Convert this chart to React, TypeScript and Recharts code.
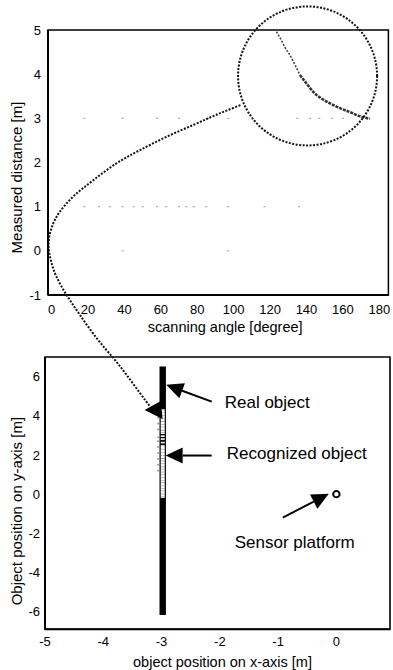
import React from 'react';
import {
  ComposedChart,
  Line,
  Scatter,
  XAxis,
  YAxis,
  ReferenceArea,
  ReferenceLine,
  ReferenceDot,
} from 'recharts';

const FONT = '"Liberation Sans", Arial, Helvetica, sans-serif';

// ---- top plot: measured distance vs scanning angle ----
const angleTicks = [0, 20, 40, 60, 80, 100, 120, 140, 160, 180];
const distTicks = [-1, 0, 1, 2, 3, 4, 5];

const measuredAngle = [123.5, 126.2, 128.0, 130.9, 133.7, 136.4, 140.0, 143.7, 148.2, 152.9, 158.4, 163.9, 169.3, 174.8];
const measuredDist = [4.96, 4.77, 4.62, 4.43, 4.21, 3.98, 3.79, 3.6, 3.45, 3.34, 3.23, 3.14, 3.05, 2.99];

// faint scan noise along y = 0, 1, 3
const noiseAt0 = [39, 97];
const noiseAt1 = [18, 26, 32, 39, 45, 50, 58, 63, 70, 74, 78, 85, 97, 117, 136];
const noiseAt3 = [18, 39, 58, 70, 86, 97, 135, 142, 147, 154, 160];

// dotted connector curve (in top-plot units, runs on into lower plot)
const linkAngle = [103.7, 90.5, 77.8, 63.0, 48.5, 35.6, 22.9, 11.9, 4.6, 0.9, -1.3, -1.5, 0.0, 2.7, 8.2, 15.5, 24.6, 33.7, 41.0, 48.5, 54.0];
const linkDist = [3.3, 3.08, 2.85, 2.58, 2.28, 1.98, 1.6, 1.23, 0.89, 0.62, 0.32, 0.01, -0.28, -0.59, -1.0, -1.45, -1.97, -2.42, -2.8, -3.22, -3.52];
const zoomCircle = [{ x: 140.6, y: 3.96 }];

// ---- bottom plot: object position ----
const posXTicks = [-5, -4, -3, -2, -1, 0];
const posYTicks = [-6, -4, -2, 0, 2, 4, 6];

const realObjectX = -2.98;
const realObjectY = [-6.17, 6.51];
const recognizedY = [
  4.28, 4.2, 4.12, 4.05, 3.97, 3.9, 3.82, 3.75, 3.66, 3.58, 3.5, 3.42, 3.35, 3.27, 3.18, 3.1, 2.95,
  2.8, 2.62, 2.45, 2.38, 2.3, 2.22, 2.15, 2.07, 2.0, 1.92, 1.85, 1.76, 1.68, 1.6, 1.52, 1.45, 1.37,
  1.28, 1.2, 1.12, 1.04, 0.96, 0.88, 0.8, 0.72, 0.64, 0.55, 0.47, 0.4, 0.32, 0.24, 0.15, 0.08, 0.0,
  -0.08, -0.16,
];
const recognizedEdgeY = [4.1, 3.9, 3.6, 3.3, 2.9, 2.7, 2.4, 2.1, 1.8, 1.5, 1.2];
const sensor = [{ x: 0, y: 0 }];
const linkHead = [{ x: -3.29, y: 4.3 }];

const realArrow = [{ x: -2.14, y: 4.72 }, { x: -2.92, y: 5.58 }];
const recognizedArrow = [{ x: -2.14, y: 1.97 }, { x: -2.93, y: 1.97 }];
const sensorArrow = [{ x: -0.92, y: -1.2 }, { x: -0.13, y: 0.02 }];

const notes = [
  { text: 'Real object', x: -1.916, y: 4.68 },
  { text: 'Recognized object', x: -1.88, y: 2.08 },
  { text: 'Sensor platform', x: -1.744, y: -2.42 },
];

const measuredUpper = measuredAngle.slice(0, 6).map((x, i) => ({ x, y: measuredDist[i] }));
const measuredLower = measuredAngle.slice(5).map((x, i) => ({ x, y: measuredDist[i + 5] }));
const noisePts = [
  ...noiseAt0.map((x) => ({ x, y: 0 })),
  ...noiseAt1.map((x) => ({ x, y: 1 })),
  ...noiseAt3.map((x) => ({ x, y: 3 })),
];
const linkPts = linkAngle.map((x, i) => ({ x, y: linkDist[i] }));
const recognizedPts = recognizedY.map((y) => ({ x: realObjectX, y }));
const recognizedEdgePts = recognizedEdgeY.map((y) => ({ x: -3.06, y }));

const tickStyle = { fontSize: 13, fill: '#000', fontFamily: FONT };
const titleStyle = { fontSize: 14.5, fill: '#000', fontFamily: FONT, textAnchor: 'middle' as const };

const Arrow = (props: any) => {
  const { x1, y1, x2, y2 } = props;
  const a = Math.atan2(y2 - y1, x2 - x1);
  const len = 17;
  const half = 8;
  const bx = x2 - len * Math.cos(a);
  const by = y2 - len * Math.sin(a);
  const px = -Math.sin(a) * half;
  const py = Math.cos(a) * half;
  return (
    <g>
      <line x1={x1} y1={y1} x2={bx} y2={by} stroke="#000" strokeWidth={2} />
      <polygon points={`${x2},${y2} ${bx + px},${by + py} ${bx - px},${by - py}`} fill="#000" />
    </g>
  );
};

const TopChart = () => (
  <ComposedChart width={393} height={340} margin={{ top: 30, right: 4.6, left: 0, bottom: 0 }}>
    <XAxis
      type="number"
      dataKey="x"
      domain={[-2, 185]}
      ticks={angleTicks}
      height={45}
      tickLine={false}
      tickSize={6}
      tickMargin={4}
      tick={tickStyle}
      axisLine={{ stroke: '#000', strokeWidth: 2 }}
      label={{ value: 'scanning angle [degree]', position: 'insideBottom', offset: 8, dx: 7, style: titleStyle }}
    />
    <YAxis
      type="number"
      dataKey="y"
      domain={[-1, 5]}
      ticks={distTicks}
      width={48}
      tickLine={false}
      tickSize={4}
      tickMargin={3}
      tick={tickStyle}
      axisLine={{ stroke: '#000', strokeWidth: 2 }}
      label={{ value: 'Measured distance [m]', angle: -90, position: 'insideLeft', offset: 0, dx: 17, dy: 15, style: { ...titleStyle, fontSize: 15 } }}
    />
    <ReferenceArea x1={-2} x2={185} y1={-1} y2={5} fill="none" stroke="#000" strokeWidth={1.5} />
    <Scatter
      data={noisePts}
      isAnimationActive={false}
      shape={(p: any) => <rect x={p.cx - 1} y={p.cy - 0.6} width={2} height={1.2} fill="#aaa" />}
    />
    <Line
      data={measuredUpper}
      dataKey="y"
      type="monotone"
      stroke="#444"
      strokeWidth={1.6}
      strokeDasharray="2 1.5"
      dot={false}
      isAnimationActive={false}
    />
    <Line
      data={measuredLower}
      dataKey="y"
      type="monotone"
      stroke="#333"
      strokeWidth={2.6}
      strokeDasharray="3 1"
      dot={false}
      isAnimationActive={false}
    />
  </ComposedChart>
);

const BottomChart = () => (
  <ComposedChart width={393} height={330} margin={{ top: 17, right: 3, left: 0, bottom: 0 }}>
    <XAxis
      type="number"
      dataKey="x"
      domain={[-5, 0.92]}
      ticks={posXTicks}
      height={40.7}
      tickLine={false}
      tickSize={4}
      tickMargin={3.5}
      tick={tickStyle}
      axisLine={{ stroke: '#000', strokeWidth: 2 }}
      label={{ value: 'object position on x-axis [m]', position: 'insideBottom', offset: 3, dx: 5, style: titleStyle }}
    />
    <YAxis
      type="number"
      dataKey="y"
      domain={[-6.9, 7]}
      ticks={posYTicks}
      width={45}
      tickLine={false}
      tickSize={3}
      tickMargin={2}
      tick={tickStyle}
      axisLine={{ stroke: '#000', strokeWidth: 2 }}
      label={{ value: 'Object position on y-axis [m]', angle: -90, position: 'insideLeft', offset: 0, dx: 17, dy: 18, style: { ...titleStyle, fontSize: 15 } }}
    />
    <ReferenceArea x1={-5} x2={0.92} y1={-6.9} y2={7} fill="none" stroke="#000" strokeWidth={1.6} />
    <ReferenceArea
      x1={realObjectX - 0.055}
      x2={realObjectX + 0.055}
      y1={realObjectY[0]}
      y2={realObjectY[1]}
      fill="#000"
      stroke="none"
      fillOpacity={1}
    />
    <ReferenceLine segment={realArrow} shape={Arrow} />
    <ReferenceLine segment={recognizedArrow} shape={Arrow} />
    <ReferenceLine segment={sensorArrow} shape={Arrow} />
    <Scatter
      data={recognizedPts}
      isAnimationActive={false}
      shape={(p: any) => <rect x={p.cx - 2} y={p.cy - 1} width={4} height={1.6} fill="#fff" />}
    />
    <Scatter
      data={recognizedEdgePts}
      isAnimationActive={false}
      shape={(p: any) => <rect x={p.cx - 0.8} y={p.cy - 0.8} width={1.6} height={1.6} fill="#888" />}
    />
    <Scatter
      data={linkHead}
      isAnimationActive={false}
      shape={(p: any) => (
        <polygon points={`${p.cx},${p.cy} ${p.cx + 16},${p.cy - 9} ${p.cx + 18},${p.cy + 9}`} fill="#000" />
      )}
    />
    <Scatter
      data={sensor}
      isAnimationActive={false}
      shape={(p: any) => <circle cx={p.cx} cy={p.cy} r={3.2} fill="#fff" stroke="#000" strokeWidth={2} />}
    />
    {notes.map((n) => (
      <ReferenceDot
        key={n.text}
        x={n.x}
        y={n.y}
        r={0}
        fill="none"
        stroke="none"
        label={{ value: n.text, position: 'right', offset: 0, style: { fontSize: 17, fill: '#000', fontFamily: FONT } }}
      />
    ))}
  </ComposedChart>
);

// overlay sharing the top plot's scales, extended downward
const LinkOverlay = () => (
  <ComposedChart width={393} height={670} margin={{ top: 30, right: 4.6, left: 48, bottom: 21.7 }}>
    <XAxis type="number" dataKey="x" domain={[-2, 185]} hide />
    <YAxis type="number" dataKey="y" domain={[-9, 5]} hide />
    <Line
      data={linkPts}
      dataKey="y"
      type="natural"
      stroke="#111"
      strokeWidth={2}
      strokeDasharray="2 1.5"
      dot={false}
      isAnimationActive={false}
    />
    <Scatter
      data={zoomCircle}
      isAnimationActive={false}
      shape={(p: any) => (
        <circle cx={p.cx} cy={p.cy} r={69.5} fill="none" stroke="#111" strokeWidth={2} strokeDasharray="2 1.5" />
      )}
    />
  </ComposedChart>
);

export default function App() {
  return (
    <div style={{ position: 'absolute', left: 0, top: 0, width: 393, height: 670, background: '#fff' }}>
      <div style={{ position: 'absolute', left: 0, top: 0 }}>
        <TopChart />
      </div>
      <div style={{ position: 'absolute', left: 0, top: 340 }}>
        <BottomChart />
      </div>
      <div style={{ position: 'absolute', left: 0, top: 0, pointerEvents: 'none' }}>
        <LinkOverlay />
      </div>
    </div>
  );
}
